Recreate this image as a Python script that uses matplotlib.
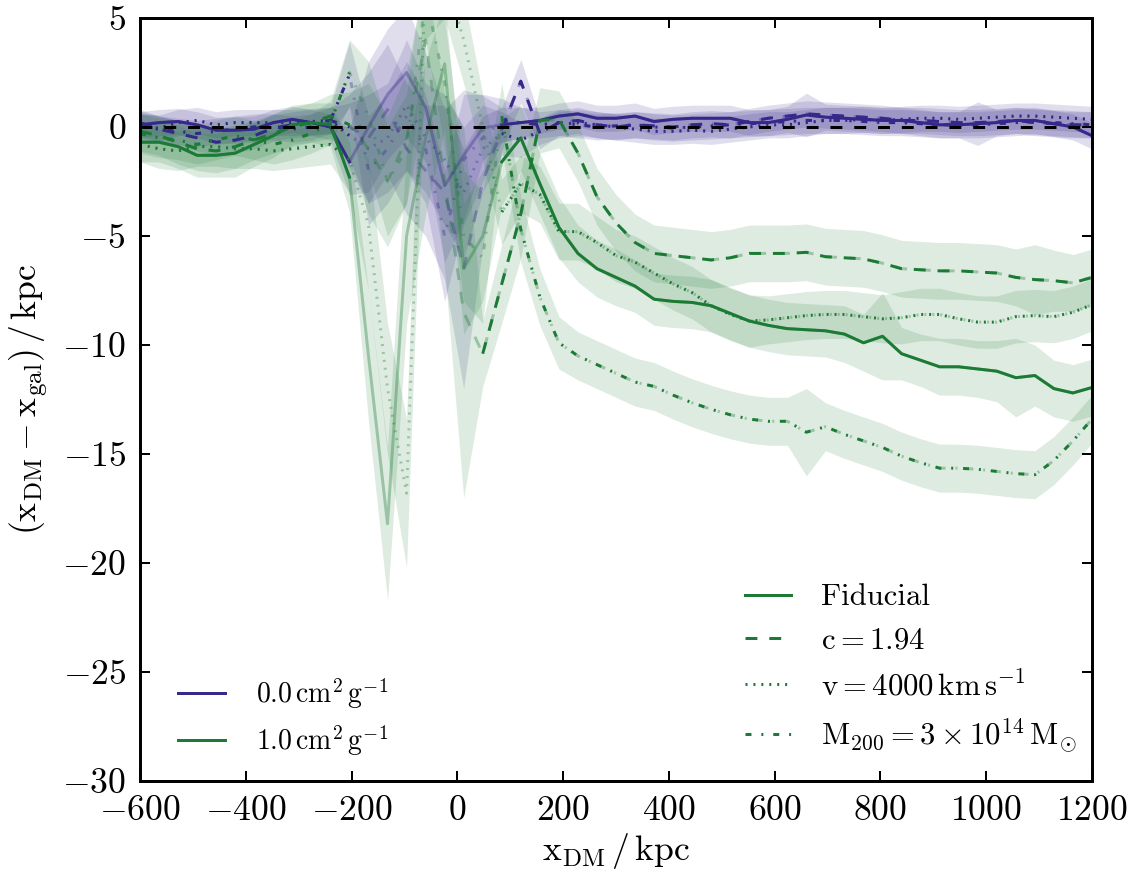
import numpy as np
import matplotlib
matplotlib.use('Agg')
import matplotlib.pyplot as plt
from matplotlib.lines import Line2D

plt.rcParams['font.family'] = 'serif'
plt.rcParams['font.serif'] = ['cmr10']
plt.rcParams['mathtext.fontset'] = 'cm'
plt.rcParams['axes.formatter.use_mathtext'] = True
plt.rcParams['lines.scale_dashes'] = False
plt.rcParams['lines.dashed_pattern'] = [6, 6]
plt.rcParams['lines.dotted_pattern'] = [1, 3]
plt.rcParams['lines.dashdot_pattern'] = [3, 5, 1, 5]

# sampling positions of the DM halo (kpc)
x = np.arange(-600, 1201, 36)

# 1.0 cm^2/g runs
green_solid = np.array([
    -0.7, -0.7, -0.9, -1.3, -1.3, -1.2, -0.8, -0.4, 0.1, 0.2, 0.1,
    -2.3, -10.5, -18.2, -5.0, -0.5, 2.9, -6.5, -5.0, -1.6, -0.5,
    -2.6, -4.6, -5.8, -6.5, -6.9, -7.3, -7.9, -8.0, -8.05, -8.2,
    -8.55, -8.9, -9.1, -9.25, -9.3, -9.35, -9.5, -9.9, -9.6, -10.4,
    -10.7, -11.0, -11.0, -11.1, -11.2, -11.5, -11.4, -12.0, -12.2, -11.95])
green_dashed = np.array([
    -0.2, -0.4, -0.7, -1.0, -1.1, -0.9, -0.6, -0.3, 0.0, 0.2, 0.5,
    0.1, -1.0, -2.5, -0.5, 4.0, -2.5, -8.5, -10.4, -7.2, -4.0,
    0.3, 0.35, -1.2, -3.2, -4.4, -5.3, -5.8, -5.9, -6.0, -6.1,
    -6.0, -5.8, -5.8, -5.8, -5.75, -5.95, -6.0, -6.05, -6.25, -6.5,
    -6.55, -6.6, -6.6, -6.65, -6.7, -6.9, -7.0, -7.05, -7.15, -6.9])
green_dotted = np.array([
    -0.8, -1.0, -1.1, -0.9, -0.9, -1.0, -1.0, -1.1, -1.0, -0.9, -0.8,
    -1.5, -4.5, -12.0, -16.8, 7.0, 7.0, 4.0, 0.0, -3.9, -2.6,
    -3.1, -4.8, -4.8, -5.3, -5.9, -6.2, -6.7, -7.2, -7.6, -8.2,
    -8.6, -8.9, -8.85, -8.75, -8.65, -8.6, -8.6, -8.7, -8.8, -8.75,
    -8.6, -8.6, -8.8, -8.95, -8.95, -8.7, -8.65, -8.7, -8.5, -8.15])
green_dashdot = np.array([
    -0.3, -0.5, -0.6, -0.8, -0.6, -0.4, -0.6, -0.8, -0.6, -0.3, 0.2,
    2.5, 0.5, -2.5, -1.0, 6.0, 2.0, -5.0, -6.0, 0.5, -4.7,
    -7.8, -9.9, -10.5, -10.9, -11.3, -11.7, -11.9, -12.3, -12.65, -12.95,
    -13.2, -13.4, -13.5, -13.5, -14.0, -13.75, -14.1, -14.4, -14.7, -15.1,
    -15.4, -15.65, -15.65, -15.7, -15.8, -15.9, -15.95, -15.3, -14.4, -13.4])

green_solid_err = np.array([
    0.9, 0.9, 1.0, 1.0, 1.0, 1.1, 1.0, 1.0, 0.9, 0.9, 1.0,
    1.6, 3.0, 3.5, 4.0, 3.5, 3.0, 3.0, 3.0, 2.0, 1.5,
    1.4, 1.4, 1.3, 1.3, 1.3, 1.2, 1.2, 1.2, 1.2, 1.2,
    1.2, 1.2, 1.2, 1.2, 1.2, 1.2, 1.3, 1.3, 2.0, 1.2,
    1.2, 1.3, 1.3, 1.3, 1.4, 1.8, 1.4, 1.3, 1.3, 1.3])
green_dashed_err = np.array([
    0.9, 0.9, 1.0, 1.0, 1.0, 1.0, 0.9, 0.9, 0.9, 0.9, 1.0,
    1.5, 3.0, 3.0, 3.0, 3.0, 4.0, 8.5, 1.5, 1.8, 2.0,
    1.5, 1.3, 1.3, 1.3, 1.3, 1.3, 1.3, 1.3, 1.3, 1.3,
    1.3, 1.3, 1.3, 1.3, 1.3, 1.3, 1.3, 1.3, 1.3, 1.3,
    1.3, 1.3, 1.3, 1.3, 1.3, 1.3, 1.6, 1.4, 1.3, 1.3])
green_dotted_err = np.array([
    0.8, 0.9, 0.9, 0.9, 0.9, 0.9, 0.9, 0.9, 0.9, 0.9, 0.9,
    1.5, 3.0, 3.0, 3.4, 3.0, 2.0, 2.0, 1.5, 1.5, 1.3,
    1.3, 1.3, 1.3, 1.2, 1.2, 1.2, 1.2, 1.2, 1.2, 1.2,
    1.2, 1.2, 1.1, 1.1, 1.1, 1.1, 1.1, 1.1, 1.1, 1.2,
    1.2, 1.2, 1.2, 1.2, 1.2, 1.2, 1.2, 1.2, 1.2, 1.2])
green_dashdot_err = np.array([
    0.9, 0.9, 0.9, 0.9, 0.9, 0.9, 0.9, 0.9, 0.9, 0.9, 1.0,
    1.5, 2.5, 2.5, 2.5, 2.0, 3.0, 3.0, 3.0, 1.5, 1.5,
    1.3, 1.2, 1.1, 1.1, 1.1, 1.1, 1.1, 1.1, 1.1, 1.1,
    1.1, 1.1, 1.1, 1.1, 2.0, 1.1, 1.1, 1.1, 1.1, 1.1,
    1.1, 1.1, 1.1, 1.1, 1.1, 1.1, 1.1, 1.1, 1.1, 1.1])

# 0.0 cm^2/g runs
purple_solid = np.array([
    0.1, 0.2, 0.25, 0.1, -0.15, -0.15, -0.1, 0.2, 0.35, 0.2, 0.0,
    -1.6, 0.0, 1.5, 2.5, 0.9, -2.7, -1.3, -0.05, 0.1, 0.2,
    0.3, 0.5, 0.6, 0.4, 0.4, 0.5, 0.25, 0.35, 0.4, 0.4,
    0.4, 0.2, 0.2, 0.35, 0.55, 0.45, 0.4, 0.35, 0.3, 0.3,
    0.2, 0.1, 0.1, 0.15, 0.2, 0.3, 0.3, 0.15, 0.0, -0.4])
purple_dashed = np.array([
    0.2, -0.1, -0.3, -0.5, -0.7, -0.6, -0.4, -0.05, 0.1, 0.2, 0.3,
    0.0, -0.5, 0.8, -1.0, -2.0, -3.0, -6.5, -2.5, -0.1, 2.1,
    -0.3, 0.2, 0.3, 0.1, 0.0, 0.1, 0.05, 0.0, 0.1, 0.15,
    0.1, 0.25, 0.4, 0.5, 0.6, 0.55, 0.5, 0.45, 0.4, 0.3,
    0.3, 0.25, 0.2, 0.2, 0.25, 0.3, 0.2, 0.15, 0.1, 0.1])
purple_dotted = np.array([
    0.0, -0.05, 0.2, 0.3, 0.1, 0.2, 0.2, 0.2, 0.2, 0.25, 0.3,
    -0.4, -1.0, -0.5, 1.0, -0.5, -1.5, -3.0, -1.0, -0.3, -0.6,
    -0.2, 0.1, 0.2, 0.1, 0.0, -0.1, -0.2, -0.2, -0.15, -0.2,
    -0.1, 0.0, 0.1, 0.1, 0.2, 0.3, 0.3, 0.35, 0.3, 0.35,
    0.4, 0.4, 0.35, 0.4, 0.45, 0.5, 0.5, 0.45, 0.4, 0.35])
purple_dashdot = np.array([
    0.0, -0.1, -0.2, -0.3, -0.2, -0.1, 0.0, 0.0, -0.1, 0.0, 0.3,
    2.4, -2.0, -1.0, 0.5, -1.0, -5.0, -1.5, -0.5, 0.3, 0.2,
    0.1, 0.2, 0.1, 0.0, 0.05, 0.1, 0.0, -0.05, 0.0, 0.05,
    0.1, 0.15, 0.2, 0.25, 0.3, 0.3, 0.3, 0.25, 0.2, 0.2,
    0.15, 0.1, 0.1, 0.1, 0.15, 0.2, 0.25, 0.2, 0.15, 0.1])

purple_solid_err = np.array([
    0.6, 0.6, 0.6, 0.6, 0.6, 0.6, 0.6, 0.6, 0.6, 0.6, 0.6,
    1.5, 3.0, 3.0, 3.0, 2.5, 3.5, 3.0, 1.5, 0.8, 0.7,
    0.6, 0.6, 0.6, 0.6, 0.6, 0.6, 0.6, 0.6, 0.6, 0.6,
    0.6, 0.6, 0.6, 0.6, 1.0, 0.6, 0.6, 0.6, 0.6, 0.6,
    0.6, 0.6, 0.6, 1.0, 0.6, 0.6, 0.6, 0.6, 0.6, 0.6])
purple_dashed_err = np.array([
    0.6, 0.6, 0.6, 0.6, 0.6, 0.6, 0.6, 0.6, 0.6, 0.6, 0.6,
    1.5, 3.0, 3.0, 3.0, 3.0, 4.0, 5.5, 3.0, 1.0, 1.0,
    0.7, 0.6, 0.6, 0.6, 0.6, 0.6, 0.6, 0.6, 0.6, 0.6,
    0.6, 0.6, 0.6, 0.6, 0.6, 0.6, 0.6, 0.6, 0.6, 0.6,
    0.6, 0.6, 0.6, 0.6, 0.6, 0.6, 0.6, 0.6, 0.6, 0.6])
purple_dotted_err = np.array([
    0.6, 0.6, 0.6, 0.6, 0.6, 0.6, 0.6, 0.6, 0.6, 0.6, 0.6,
    1.5, 2.5, 2.5, 3.0, 2.5, 3.0, 3.0, 2.0, 1.0, 0.8,
    0.6, 0.6, 0.6, 0.6, 0.6, 0.6, 0.6, 0.6, 0.6, 0.6,
    0.6, 0.6, 0.6, 0.6, 0.6, 0.6, 0.6, 0.6, 0.6, 0.6,
    0.6, 0.6, 0.6, 0.6, 0.6, 0.6, 0.6, 0.6, 0.6, 0.6])
purple_dashdot_err = np.array([
    0.6, 0.6, 0.6, 0.6, 0.6, 0.6, 0.6, 0.6, 0.6, 0.6, 0.6,
    1.5, 2.5, 2.5, 2.5, 2.5, 3.0, 3.0, 2.0, 1.0, 0.7,
    0.6, 0.6, 0.6, 0.6, 0.6, 0.6, 0.6, 0.6, 0.6, 0.6,
    0.6, 0.6, 0.6, 0.6, 0.6, 0.6, 0.6, 0.6, 0.6, 0.6,
    0.6, 0.6, 0.6, 0.6, 0.6, 0.6, 0.6, 0.6, 0.6, 0.6])

# index where the unreliable (faded) stretch starts, and where each run is reliable again
faded_from = 12
green_reliable_from = [19, 18, 19, 19]
purple_reliable_from = [19, 19, 19, 19]

purple = '#34288a'
green = '#1b7a34'
styles = ['-', '--', ':', '-.']

fig = plt.figure(figsize=(8, 8 * 876 / 1142), dpi=1142 / 8)
ax = fig.add_axes([0.1226, 0.1084, 0.9562 - 0.1226, 0.9795 - 0.1084])


def draw(y, err, color, ls, start):
    ax.fill_between(x, y - err, y + err, color=color, alpha=0.15, lw=0)
    ax.plot(x, y, color=color, ls=ls, lw=1.5, alpha=0.35)
    ax.plot(x[:faded_from], y[:faded_from], color=color, ls=ls, lw=1.5)
    ax.plot(x[start:], y[start:], color=color, ls=ls, lw=1.5)


p_runs = [(purple_solid, purple_solid_err), (purple_dashed, purple_dashed_err),
          (purple_dotted, purple_dotted_err), (purple_dashdot, purple_dashdot_err)]
g_runs = [(green_solid, green_solid_err), (green_dashed, green_dashed_err),
          (green_dotted, green_dotted_err), (green_dashdot, green_dashdot_err)]

for (y, e), ls, s in zip(p_runs, styles, purple_reliable_from):
    draw(y, e, purple, ls, s)
for (y, e), ls, s in zip(g_runs, styles, green_reliable_from):
    draw(y, e, green, ls, s)

ax.axhline(0, color='k', ls='--', lw=1.5, zorder=10)

ax.set_xlim(-600, 1200)
ax.set_ylim(-30, 5)
ax.set_xticks(np.arange(-600, 1201, 200))
ax.set_yticks(np.arange(-30, 6, 5))
ax.tick_params(direction='in', top=True, right=True, length=5, width=1,
               labelsize=18, pad=7)
for sp in ax.spines.values():
    sp.set_linewidth(1.5)

ax.set_xlabel(r'$\mathrm{x_{DM}\,/\,kpc}$', fontsize=18, labelpad=2)
ax.set_ylabel(r'$(\mathrm{x_{DM}} - \mathrm{x_{gal}})\,/\,\mathrm{kpc}$', fontsize=18, labelpad=6)

h1 = [Line2D([], [], color=purple, lw=1.5), Line2D([], [], color=green, lw=1.5)]
leg1 = ax.legend(h1, [r'$0.0\,\mathrm{cm^2\,g^{-1}}$', r'$1.0\,\mathrm{cm^2\,g^{-1}}$'],
                 loc='lower left', bbox_to_anchor=(0.04, 0.03), frameon=False,
                 fontsize=14, borderpad=0, borderaxespad=0, handlelength=1.7,
                 handletextpad=1.1, labelspacing=0.45)
ax.add_artist(leg1)

h2 = [Line2D([], [], color=green, lw=1.5, ls=s) for s in styles]
ax.legend(h2, ['Fiducial', r'$\mathrm{c} = 1.94$', r'$\mathrm{v} = 4000\,\mathrm{km\,s^{-1}}$',
               r'$\mathrm{M_{200}} = 3\times10^{14}\,\mathrm{M_{\odot}}$'],
          loc='lower left', bbox_to_anchor=(0.635, 0.035), frameon=False,
          fontsize=15.5, borderpad=0, borderaxespad=0, handlelength=1.5,
          handletextpad=1.0, labelspacing=0.5)

fig.savefig('out.png', dpi=1142 / 8)
